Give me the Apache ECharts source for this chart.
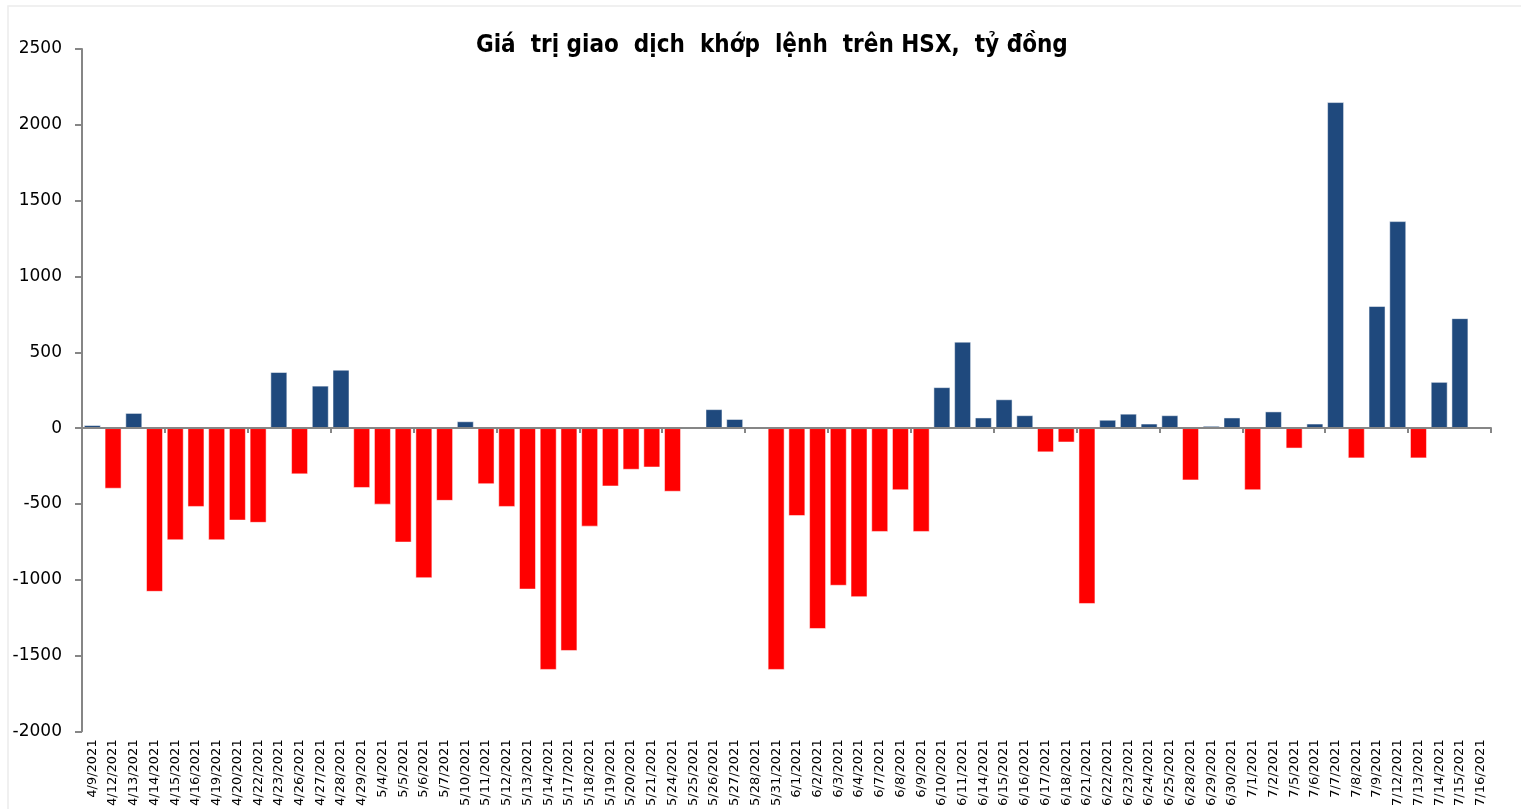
<!DOCTYPE html>
<html>
    <head>
        <meta charset="utf-8">
        <title>Giá trị giao dịch khớp lệnh trên HSX</title>
        <script src="https://cdn.jsdelivr.net/npm/echarts@6/dist/echarts.min.js"></script>
        <style>
            html, body { margin: 0; padding: 0; background: #fff; overflow: hidden; }
            #chart1 { width: 1521px; height: 809px; }
        </style>
    </head>
    <body>
        <div id="chart1"></div>
        <script type="text/javascript">
            // ngày giao dịch
            var days = ['4/9/2021', '4/12/2021', '4/13/2021', '4/14/2021', '4/15/2021', '4/16/2021', '4/19/2021', '4/20/2021',
                '4/22/2021', '4/23/2021', '4/26/2021', '4/27/2021', '4/28/2021', '4/29/2021', '5/4/2021', '5/5/2021',
                '5/6/2021', '5/7/2021', '5/10/2021', '5/11/2021', '5/12/2021', '5/13/2021', '5/14/2021', '5/17/2021',
                '5/18/2021', '5/19/2021', '5/20/2021', '5/21/2021', '5/24/2021', '5/25/2021', '5/26/2021', '5/27/2021',
                '5/28/2021', '5/31/2021', '6/1/2021', '6/2/2021', '6/3/2021', '6/4/2021', '6/7/2021', '6/8/2021',
                '6/9/2021', '6/10/2021', '6/11/2021', '6/14/2021', '6/15/2021', '6/16/2021', '6/17/2021', '6/18/2021',
                '6/21/2021', '6/22/2021', '6/23/2021', '6/24/2021', '6/25/2021', '6/28/2021', '6/29/2021', '6/30/2021',
                '7/1/2021', '7/2/2021', '7/5/2021', '7/6/2021', '7/7/2021', '7/8/2021', '7/9/2021', '7/12/2021',
                '7/13/2021', '7/14/2021', '7/15/2021', '7/16/2021'];

            // giá trị khớp lệnh ròng, tỷ đồng
            var netValue = [20, -400, 100, -1080, -740, -520, -740, -610,
                -625, 370, -305, 280, 385, -395, -505, -755,
                -990, -480, 45, -370, -520, -1065, -1595, -1470,
                -650, -385, -275, -260, -420, 0, 125, 60,
                0, -1595, -580, -1325, -1040, -1115, -685, -410,
                -685, 270, 570, 70, 190, 85, -160, -95,
                -1160, 55, 95, 30, 85, -345, 15, 70,
                -410, 110, -135, 30, 2150, -200, 805, 1365,
                -200, 305, 725, null];

            var yTicks = [-2000, -1500, -1000, -500, 0, 500, 1000, 1500, 2000, 2500];

            var posColor = '#1F497D';
            var negColor = '#FF0000';

            var myChart1 = echarts.init(document.getElementById('chart1'));

            myChart1.setOption({
                backgroundColor: '#fff',
                animation: false,
                title: {
                    text: 'Giá  trị giao  dịch  khớp  lệnh  trên HSX,  tỷ đồng',
                    left: 471,
                    top: 29,
                    textStyle: { fontFamily: 'DejaVu Sans Condensed', fontWeight: 'bold', fontSize: 24, color: '#000' }
                },
                graphic: [{
                    type: 'rect',
                    shape: { x: 8, y: 6, width: 1530, height: 820 },
                    style: { fill: 'none', stroke: '#ececec', lineWidth: 1.5 },
                    silent: true
                }],
                grid: { left: 82, top: 49, width: 1409, height: 688 },
                xAxis: [{
                    type: 'category',
                    data: days,
                    position: 'bottom',
                    z: 5,
                    axisLine: { onZero: true, lineStyle: { color: '#868686', width: 2 } },
                    axisTick: { show: true, length: 5, lineStyle: { color: '#868686', width: 2 } },
                    axisLabel: { show: false }
                }, {
                    type: 'category',
                    data: days,
                    position: 'bottom',
                    axisLine: { show: false, onZero: false },
                    axisTick: { show: false },
                    axisLabel: { rotate: 90, interval: 0, fontFamily: 'DejaVu Sans', fontSize: 13, color: '#000', margin: 8 }
                }],
                yAxis: {
                    type: 'value',
                    min: yTicks[0],
                    max: yTicks[yTicks.length - 1],
                    interval: 500,
                    splitLine: { show: false },
                    axisLine: { show: true, lineStyle: { color: '#868686', width: 2 } },
                    axisTick: { show: true, length: 7, lineStyle: { color: '#868686', width: 2 } },
                    axisLabel: {
                        fontFamily: 'DejaVu Sans', fontSize: 17, color: '#000', margin: 20,
                        formatter: function (v) { return String(v); }
                    }
                },
                series: [{
                    name: 'Giá trị',
                    type: 'bar',
                    xAxisIndex: 0,
                    data: netValue,
                    barCategoryGap: '18%',
                    itemStyle: {
                        color: function (p) { return p.value >= 0 ? posColor : negColor; },
                        borderColor: 'rgba(255,255,255,0.5)',
                        borderWidth: 1
                    }
                }]
            });
        </script>
    </body>
</html>
